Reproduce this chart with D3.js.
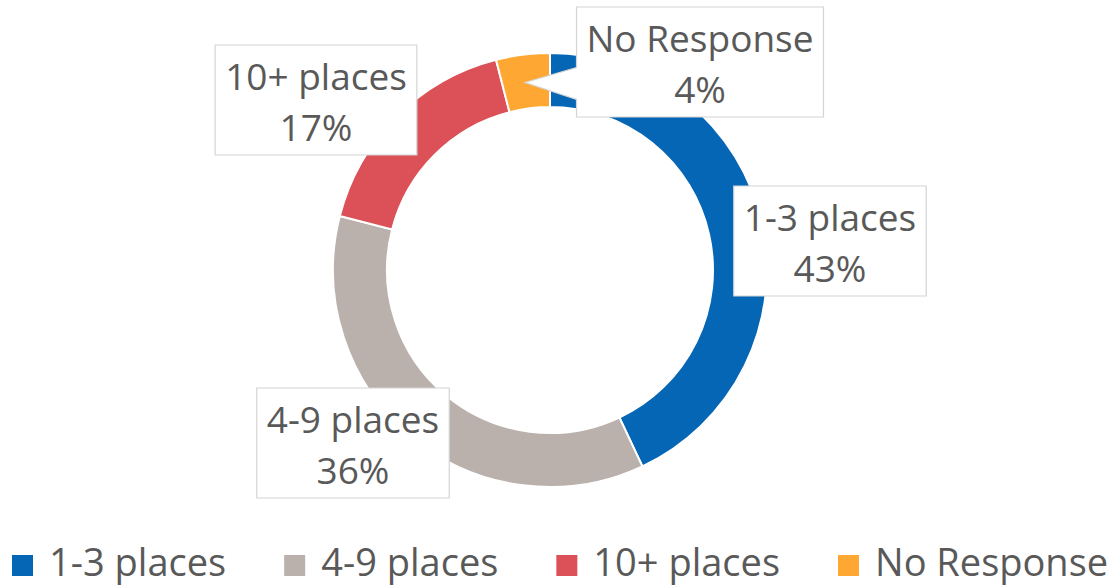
<!DOCTYPE html>
<html>
<head>
<meta charset="utf-8">
<script src="https://cdn.jsdelivr.net/npm/d3@7"></script>
<style>
  body { margin: 0; background: #fff; }
  text { font-family: "Open Sans", sans-serif; fill: #595959; }
</style>
</head>
<body>
<svg id="chart" width="1110" height="587"></svg>
<script>
var categories = ["1-3 places", "4-9 places", "10+ places", "No Response"];
var values = [43, 36, 17, 4];
var colors = ["#0466b4", "#bab0ac", "#db5157", "#fea833"];

const width = 1110, height = 587;
const cx = 550, cy = 270;
const outerR = 217, innerR = 163;
const fontSize = 37, legendFont = 38;

// label box centres (placed by hand, like the original)
var labelCenters = [[830, 241], [353, 443], [316, 100], [700, 62]];

var svg = d3.select("#chart");
var g = svg.append("g").attr("transform", "translate(" + cx + "," + cy + ")");

var pie = d3.pie().sort(null).value(d => d.value);
var arc = d3.arc().innerRadius(innerR).outerRadius(outerR);

var data = categories.map((c, i) => ({name: c, value: values[i], color: colors[i]}));
var arcs = pie(data);

g.selectAll("path.slice")
  .data(arcs)
  .enter()
  .append("path")
  .attr("class", "slice")
  .attr("d", arc)
  .attr("fill", d => d.data.color)
  .attr("stroke", "#fff")
  .attr("stroke-width", 2);

// data labels
var labels = svg.append("g").attr("class", "labels");
arcs.forEach(function(d, i) {
  var c = labelCenters[i];
  var lg = labels.append("g");
  var box = lg.append("path");
  var t1 = lg.append("text")
    .attr("x", c[0]).attr("y", c[1] - 10)
    .attr("text-anchor", "middle")
    .style("font-size", fontSize + "px")
    .text(d.data.name);
  var t2 = lg.append("text")
    .attr("x", c[0]).attr("y", c[1] + 41)
    .attr("text-anchor", "middle")
    .style("font-size", fontSize + "px")
    .text(d3.format(".0f")(d.data.value) + "%");
  var w = Math.max(t1.node().getComputedTextLength(), t2.node().getComputedTextLength()) + 20;
  var h = 110;
  var x0 = c[0] - w / 2, y0 = c[1] - h / 2, x1 = x0 + w, y1 = y0 + h;
  var p = d3.path();
  p.moveTo(x0, y0);
  p.lineTo(x1, y0);
  p.lineTo(x1, y1);
  p.lineTo(x0, y1);
  // callout pointer when the box sits beside a small slice
  if (d.data.value < 10) {
    var mid = (d.startAngle + d.endAngle) / 2;
    var tipR = (innerR + outerR) / 2 + 2;
    var tx = cx + tipR * Math.sin(mid) - 1, ty = cy - tipR * Math.cos(mid) + 3;
    p.lineTo(x0, ty + 17);
    p.lineTo(tx, ty);
    p.lineTo(x0, ty - 15);
  }
  p.closePath();
  box.attr("d", p.toString())
    .attr("fill", "#fff")
    .attr("stroke", "#d4d4d4")
    .attr("stroke-width", 1.2);
});

// legend
var legend = svg.append("g").attr("class", "legend");
var lx = 12, ly = 566, sq = 21;
data.forEach(function(d) {
  legend.append("rect")
    .attr("x", lx).attr("y", ly - 11)
    .attr("width", sq).attr("height", sq)
    .attr("fill", d.color);
  var t = legend.append("text")
    .attr("x", lx + sq + 16).attr("y", ly + 10)
    .style("font-size", legendFont + "px")
    .text(d.name);
  lx += sq + 16 + t.node().getComputedTextLength() + 58;
});
</script>
</body>
</html>
